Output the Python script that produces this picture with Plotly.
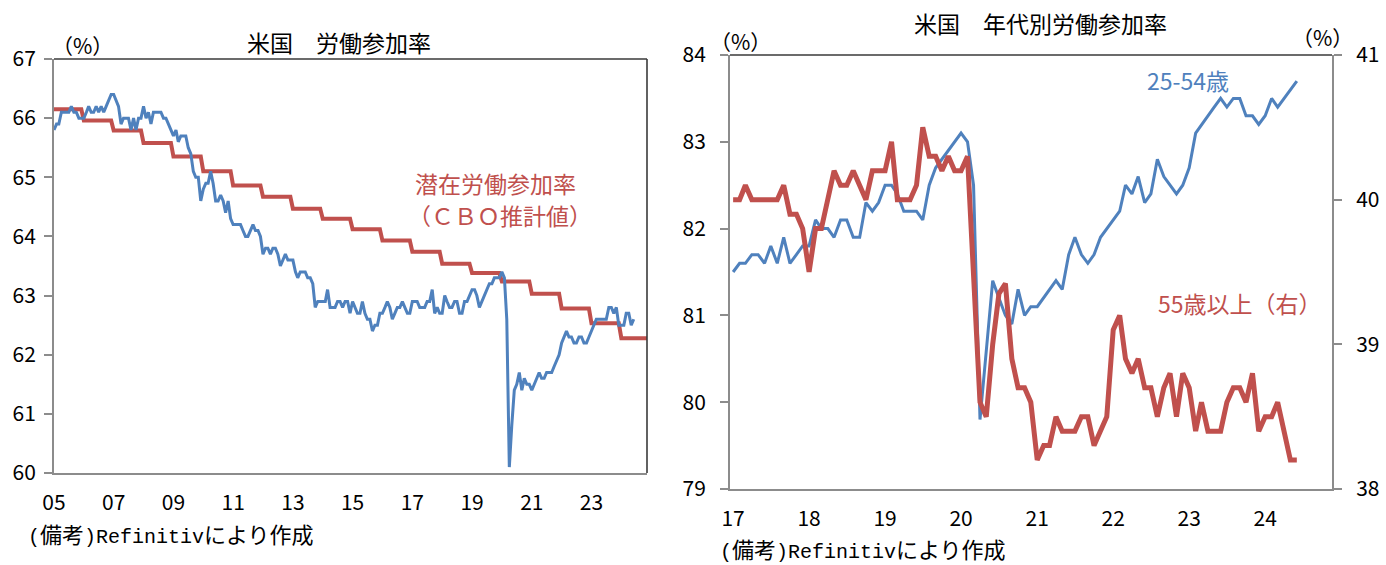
import pandas as pd
import plotly.graph_objects as go

# ---------------- data ----------------
# Left chart: US labor force participation rate (monthly, 2005-01 .. 2024-06)
lfpr_start = "2005-01-01"
lfpr = [
    65.8, 65.9, 65.9, 66.1, 66.1, 66.1, 66.1, 66.2, 66.1, 66.1, 66.0, 66.0,  # 2005
    66.0, 66.1, 66.2, 66.1, 66.1, 66.2, 66.1, 66.2, 66.1, 66.2, 66.3, 66.4,  # 2006
    66.4, 66.3, 66.2, 65.9, 66.0, 66.0, 66.0, 65.8, 66.0, 65.8, 66.0, 66.0,  # 2007
    66.2, 66.0, 66.1, 65.9, 66.1, 66.1, 66.1, 66.1, 66.0, 66.0, 65.9, 65.8,  # 2008
    65.7, 65.8, 65.6, 65.7, 65.7, 65.7, 65.5, 65.4, 65.1, 65.0, 65.0, 64.6,  # 2009
    64.8, 64.9, 64.9, 65.1, 64.9, 64.6, 64.6, 64.7, 64.6, 64.4, 64.6, 64.3,  # 2010
    64.2, 64.2, 64.2, 64.2, 64.1, 64.0, 64.0, 64.1, 64.2, 64.1, 64.1, 64.0,  # 2011
    63.7, 63.8, 63.8, 63.7, 63.8, 63.8, 63.7, 63.5, 63.6, 63.7, 63.6, 63.6,  # 2012
    63.6, 63.4, 63.3, 63.4, 63.4, 63.4, 63.3, 63.3, 63.2, 62.8, 62.9, 62.9,  # 2013
    62.9, 62.9, 63.1, 62.8, 62.8, 62.8, 62.9, 62.9, 62.8, 62.9, 62.9, 62.7,  # 2014
    62.9, 62.8, 62.7, 62.7, 62.9, 62.7, 62.6, 62.6, 62.4, 62.5, 62.5, 62.7,  # 2015
    62.7, 62.8, 62.9, 62.8, 62.6, 62.7, 62.8, 62.8, 62.9, 62.8, 62.7, 62.7,  # 2016
    62.9, 62.9, 62.9, 62.8, 62.8, 62.8, 62.9, 62.9, 63.1, 62.7, 62.8, 62.7,  # 2017
    62.7, 63.0, 62.9, 62.8, 62.8, 62.9, 62.9, 62.7, 62.7, 62.9, 62.9, 63.0,  # 2018
    63.1, 63.1, 63.0, 62.8, 62.9, 63.0, 63.1, 63.2, 63.2, 63.3, 63.3, 63.3,  # 2019
    63.4, 63.3, 62.6, 60.1, 60.8, 61.4, 61.5, 61.7, 61.4, 61.6, 61.5, 61.5,  # 2020
    61.4, 61.5, 61.6, 61.7, 61.6, 61.6, 61.7, 61.7, 61.7, 61.8, 61.9, 62.0,  # 2021
    62.2, 62.3, 62.4, 62.3, 62.3, 62.2, 62.2, 62.3, 62.3, 62.2, 62.2, 62.3,  # 2022
    62.4, 62.5, 62.6, 62.6, 62.6, 62.6, 62.6, 62.8, 62.8, 62.7, 62.8, 62.5,  # 2023
    62.5, 62.5, 62.7, 62.7, 62.5, 62.6,                                      # 2024
]

# CBO potential labor force participation rate (annual, 2005 .. 2024)
cbo_years = list(range(2005, 2025))
cbo_potential = [66.15, 65.96, 65.79, 65.58, 65.35, 65.10, 64.86, 64.67, 64.47, 64.30,
                 64.12, 63.93, 63.74, 63.54, 63.38, 63.24, 63.03, 62.78, 62.53, 62.28]

left_tickvals = ["2005-01-01", "2007-01-01", "2009-01-01", "2011-01-01", "2013-01-01",
                 "2015-01-01", "2017-01-01", "2019-01-01", "2021-01-01", "2023-01-01"]
left_ticktext = ["05", "07", "09", "11", "13", "15", "17", "19", "21", "23"]

# Right chart: participation by age (monthly, 2017-01 .. 2024-06)
age_start = "2017-01-01"
prime_age = [
    81.5, 81.6, 81.6, 81.7, 81.7, 81.6, 81.8, 81.6, 81.9, 81.6, 81.7, 81.8,  # 2017
    81.8, 82.1, 82.0, 82.0, 81.9, 82.1, 82.1, 81.9, 81.9, 82.3, 82.2, 82.3,  # 2018
    82.5, 82.5, 82.4, 82.2, 82.2, 82.2, 82.1, 82.5, 82.7, 82.8, 82.9, 83.0,  # 2019
    83.1, 83.0, 82.5, 79.8, 80.6, 81.4, 81.2, 81.0, 80.9, 81.3, 81.0, 81.1,  # 2020
    81.1, 81.2, 81.3, 81.4, 81.3, 81.7, 81.9, 81.7, 81.6, 81.7, 81.9, 82.0,  # 2021
    82.1, 82.2, 82.5, 82.4, 82.6, 82.3, 82.4, 82.8, 82.6, 82.5, 82.4, 82.5,  # 2022
    82.7, 83.1, 83.2, 83.3, 83.4, 83.5, 83.4, 83.5, 83.5, 83.3, 83.3, 83.2,  # 2023
    83.3, 83.5, 83.4, 83.5, 83.6, 83.7,                                      # 2024
]
age55_plus = [
    40.0, 40.0, 40.1, 40.0, 40.0, 40.0, 40.0, 40.0, 40.1, 39.9, 39.9, 39.8,  # 2017
    39.5, 39.8, 39.8, 40.0, 40.2, 40.1, 40.1, 40.2, 40.1, 40.0, 40.2, 40.2,  # 2018
    40.2, 40.4, 40.0, 40.0, 40.0, 40.1, 40.5, 40.3, 40.3, 40.2, 40.3, 40.2,  # 2019
    40.2, 40.3, 39.45, 38.6, 38.5, 39.0, 39.35, 39.42, 38.9, 38.7, 38.7, 38.6,  # 2020
    38.2, 38.3, 38.3, 38.5, 38.4, 38.4, 38.4, 38.5, 38.5, 38.3, 38.4, 38.5,  # 2021
    39.1, 39.2, 38.9, 38.8, 38.9, 38.7, 38.7, 38.5, 38.7, 38.8, 38.5, 38.8,  # 2022
    38.7, 38.4, 38.6, 38.4, 38.4, 38.4, 38.6, 38.7, 38.7, 38.6, 38.8, 38.4,  # 2023
    38.5, 38.5, 38.6, 38.4, 38.2, 38.2,                                      # 2024
]
right_tickvals = ["2017-01-01", "2018-01-01", "2019-01-01", "2020-01-01",
                  "2021-01-01", "2022-01-01", "2023-01-01", "2024-01-01"]
right_ticktext = ["17", "18", "19", "20", "21", "22", "23", "24"]

# ---------------- derived x values ----------------
lfpr_dates = pd.date_range(lfpr_start, periods=len(lfpr), freq="MS")
cbo_dates = pd.date_range(f"{cbo_years[0]}-01-01", f"{cbo_years[-1]}-12-01", freq="MS")
cbo_monthly = [v for v in cbo_potential for _ in range(12)]
age_dates = pd.date_range(age_start, periods=len(prime_age), freq="MS")

BLUE = "#4F81BD"
RED = "#C0504D"
AXIS = "#8C8C8C"
FONT = "Noto Sans CJK JP"
MONO = "Liberation Mono"
W, H = 1386, 565

def px_x(x):
    return x / W

def px_y(y):
    return 1 - y / H

# plot-area geometry (pixels)
L = dict(x0=54, x1=647, y0=59, y1=473)
R = dict(x0=730, x1=1332, y0=55, y1=489)

fig = go.Figure()

fig.add_trace(go.Scatter(x=cbo_dates, y=cbo_monthly, mode="lines",
                         line=dict(color=RED, width=4), xaxis="x", yaxis="y",
                         hoverinfo="skip", showlegend=False))
fig.add_trace(go.Scatter(x=lfpr_dates, y=lfpr, mode="lines",
                         line=dict(color=BLUE, width=3), xaxis="x", yaxis="y",
                         showlegend=False))

fig.add_trace(go.Scatter(x=age_dates, y=prime_age, mode="lines",
                         line=dict(color=BLUE, width=3), xaxis="x2", yaxis="y2",
                         showlegend=False))
fig.add_trace(go.Scatter(x=age_dates, y=age55_plus, mode="lines",
                         line=dict(color=RED, width=5), xaxis="x2", yaxis="y3",
                         showlegend=False))

tickfont = dict(family=FONT, size=21, color="#000000")

common_x = dict(type="date", showgrid=False, zeroline=False, ticks="",
                showline=True, linecolor=AXIS, linewidth=2, automargin=False,
                tickfont=tickfont, ticklabelstandoff=10)
common_y = dict(showgrid=False, zeroline=False, ticks="outside", ticklen=8,
                tickwidth=2, tickcolor=AXIS, showline=True, linecolor=AXIS,
                linewidth=2, tickfont=tickfont, dtick=1, automargin=False)

fig.update_layout(
    width=W, height=H,
    margin=dict(l=0, r=0, t=0, b=0),
    paper_bgcolor="white", plot_bgcolor="white",
    showlegend=False,
    font=dict(family=FONT, color="#000000"),
    xaxis=dict(common_x, domain=[px_x(L["x0"]), px_x(L["x1"])],
               range=["2005-01-01", "2024-11-10"],
               tickvals=left_tickvals, ticktext=left_ticktext, anchor="y"),
    yaxis=dict(common_y, domain=[px_y(L["y1"]), px_y(L["y0"])],
               range=[60, 67], anchor="x", ticklabelstandoff=4),
    xaxis2=dict(common_x, domain=[px_x(R["x0"]), px_x(R["x1"])],
                range=["2016-12-17", "2024-11-17"],
                tickvals=right_tickvals, ticktext=right_ticktext, anchor="y2"),
    yaxis2=dict(common_y, domain=[px_y(R["y1"]), px_y(R["y0"])],
                range=[79, 84], anchor="x2", ticklabelstandoff=10),
    yaxis3=dict(common_y, range=[38, 41], overlaying="y2", side="right",
                anchor="x2", ticklabelstandoff=10),
)

# plot-area borders (top / right) drawn darker as in the original
border = dict(color="#3A3A3A", width=1.6)
fig.add_shape(type="line", xref="paper", yref="paper",
              x0=px_x(L["x0"]), x1=px_x(L["x1"]), y0=px_y(L["y0"]), y1=px_y(L["y0"]), line=border)
fig.add_shape(type="line", xref="paper", yref="paper",
              x0=px_x(L["x1"]), x1=px_x(L["x1"]), y0=px_y(L["y0"]), y1=px_y(L["y1"]), line=border)
fig.add_shape(type="line", xref="paper", yref="paper",
              x0=px_x(R["x0"]), x1=px_x(R["x1"]), y0=px_y(R["y0"]), y1=px_y(R["y0"]), line=border)

def text(x, y, s, size=23, color="#000000", xanchor="center"):
    fig.add_annotation(x=px_x(x), y=px_y(y), xref="paper", yref="paper", text=s,
                       showarrow=False, xanchor=xanchor, yanchor="middle",
                       font=dict(family=FONT, size=size, color=color))

note = (f'<span style="font-family:{MONO};font-size:20px">(</span>備考'
        f'<span style="font-family:{MONO};font-size:20px">)Refinitiv</span>により作成')

# titles
text(339, 42, "米国　労働参加率", size=23)
text(1040, 23, "米国　年代別労働参加率", size=23)
# units
text(82, 45, "（%）", size=21)
text(740, 41, "（%）", size=21)
text(1322, 37, "（%）", size=21)
# series labels
text(495, 183, "潜在労働参加率", size=23, color=RED)
text(500, 215, "（ＣＢＯ推計値）", size=23, color=RED)
text(1188, 80, "25-54歳", size=23, color=BLUE)
text(1240, 303, "55歳以上（右）", size=23, color=RED)
# source notes
text(26, 533, note, size=22, xanchor="left")
text(718, 548, note, size=22, xanchor="left")

fig.write_html("out.html")
